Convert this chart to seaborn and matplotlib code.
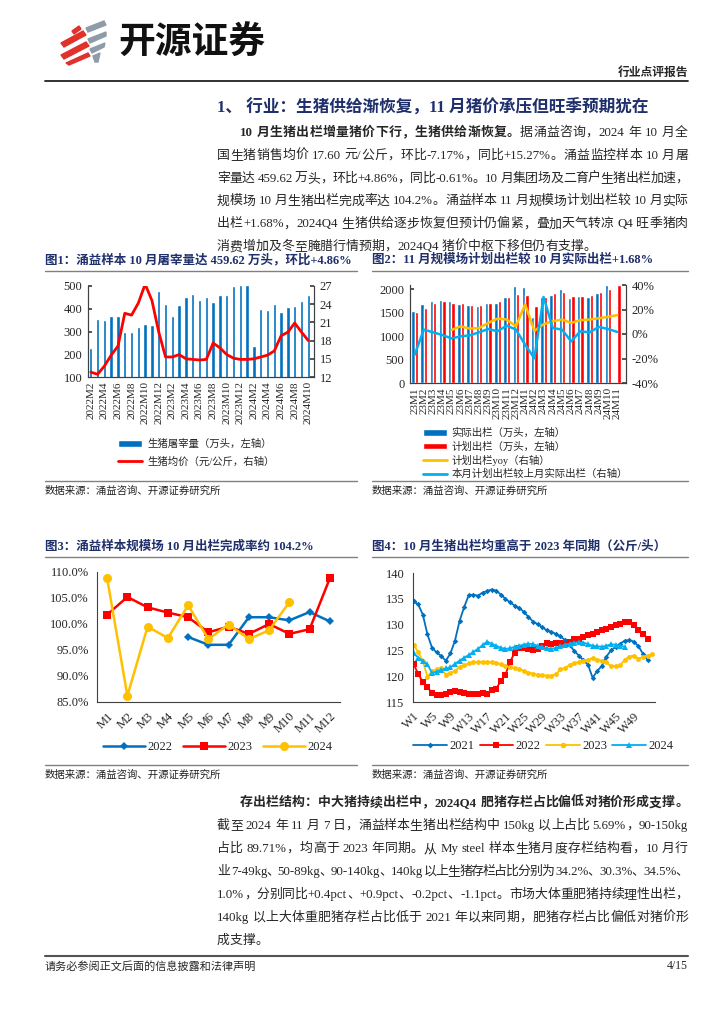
import re
import numpy as np
import pandas as pd
import matplotlib
matplotlib.use('Agg')
import matplotlib.pyplot as plt
import seaborn as sns
from matplotlib.patches import Polygon, Patch
from matplotlib.lines import Line2D

# ---------------- data ----------------
# 图1: 屠宰量 (万头) and 生猪均价 (元/公斤), 2022M2 - 2024M10
months1 = ([f'2022M{m}' for m in range(2, 13)] + [f'2023M{m}' for m in range(1, 13)]
           + [f'2024M{m}' for m in range(1, 11)])
slaughter = [226, 353, 350, 368, 370, 298, 298, 321, 334, 328, 477,
             420, 366, 415, 450, 464, 440, 453, 430, 459, 462, 499, 505,
             505, 238, 397, 394, 423, 384, 408, 410, 436, 460]
price = [12.8, 12.45, 13.8, 15.6, 17.1, 22.5, 22.2, 24.2, 27.3, 24.6, 19.4,
         15.3, 15.3, 15.7, 15.0, 14.9, 14.8, 14.9, 17.6, 16.8, 15.7, 15.1, 14.9,
         14.9, 15.0, 15.3, 15.6, 16.3, 18.8, 19.4, 20.9, 19.4, 18.0]

# 图2: 规模场实际 / 计划出栏 (万头), 23M1 - 24M11
months2 = [f'23M{m}' for m in range(1, 13)] + [f'24M{m}' for m in range(1, 12)]
actual = [1547, 1683, 1755, 1784, 1748, 1683, 1662, 1655, 1712, 1719, 1827, 2065,
          2050, 1417, 1835, 1878, 2000, 1806, 1856, 1827, 1914, 2093, np.nan]
plan = [1518, 1604, 1712, 1748, 1719, 1712, 1676, 1676, 1712, 1748, 1842, 1892,
        1885, 1640, 1842, 1928, 1935, 1863, 1856, 1885, 1942, 2000, 2093]
plan_yoy = [np.nan, np.nan, np.nan, np.nan, 3.3, 6.3, 4.4, 4.9, 9.1, 12.6, 11.8, 6.3,
            24.2, 2.5, 8.0, 10.4, 11.8, 9.1, 11.3, 11.8, 12.9, 14.0, 15.4]
plan_vs_last = [-17.0, 3.6, 1.4, -0.8, -3.6, -1.9, -1.1, 1.4, 4.1, 2.2, 6.9, 3.6,
                -8.8, -19.8, 30.2, 4.9, 3.6, -6.0, 2.2, 1.4, 5.8, 4.1, 1.7]

# 图3: 出栏完成率 (%)
months3 = [f'M{m}' for m in range(1, 13)]
rate_2022 = [np.nan, np.nan, np.nan, np.nan, 97.5, 96.0, 96.0, 101.3, 101.3, 100.7, 102.3, 100.5]
rate_2023 = [101.8, 105.2, 103.2, 102.2, 101.3, 98.4, 99.5, 98.1, 100.0, 98.1, 99.0, 108.8]
rate_2024 = [108.8, 86.2, 99.5, 97.3, 103.6, 97.1, 99.9, 97.1, 98.8, 104.2, np.nan, np.nan]

# 图4: 生猪出栏均重 (公斤/头), weekly
weight_2021 = [134.5, 133.9, 131.9, 128.1, 125.5, 124.6, 123.9, 123.0, 124.4, 126.9,
               130.7, 133.4, 135.7, 135.8, 135.6, 136.2, 136.5, 136.8, 136.6, 135.8,
               135.0, 134.3, 133.7, 133.2, 132.5, 131.5, 130.6, 130.1, 129.5, 128.9,
               128.6, 128.2, 127.7, 127.0, 126.0, 124.9, 124.0, 123.1, 122.2, 119.7,
               121.0, 122.0, 123.8, 125.0, 125.7, 126.3, 126.9, 127.0, 126.7, 125.8,
               124.3, 123.1]
weight_2022 = [122.3, 120.4, 118.9, 117.9, 116.7, 116.4, 116.3, 116.5, 117.0, 117.2,
               116.9, 116.7, 116.6, 116.5, 116.6, 116.7, 116.6, 117.3, 117.6, 119.1,
               120.3, 122.8, 124.5, 125.4, 125.4, 125.2, 125.1, 125.3, 125.9, 126.4,
               126.3, 126.5, 126.4, 126.2, 126.7, 127.2, 127.3, 127.6, 127.9, 128.1,
               128.5, 128.9, 129.2, 129.5, 129.9, 130.2, 130.5, 130.6, 129.9, 129.0,
               128.2, 127.3]
weight_2023 = [126.1, 124.6, 122.9, 119.9, 121.0, 121.3, 121.5, 120.3, 120.7, 121.0,
               121.8, 122.1, 122.5, 122.7, 122.8, 122.8, 122.7, 122.7, 122.6, 122.3,
               122.0, 121.7, 121.5, 121.3, 121.1, 120.7, 120.5, 120.3, 120.2, 120.1,
               120.1, 120.4, 121.3, 121.6, 122.2, 122.5, 122.8, 123.0, 123.2, 123.5,
               123.2, 123.0, 122.7, 121.9, 122.0, 122.1, 123.2, 123.8, 124.0, 123.4,
               123.7, 124.0, 124.3]
weight_2024 = [124.4, 123.6, 122.9, 122.3, 120.6, 120.9, 121.2, 121.5, 121.7, 122.4,
               123.0, 123.6, 124.1, 124.7, 125.3, 126.0, 126.7, 126.3, 125.9, 125.5,
               125.3, 125.4, 125.7, 125.9, 126.1, 126.3, 126.2, 125.9, 125.6, 125.4,
               125.3, 125.5, 125.8, 126.1, 126.3, 126.5, 126.6, 126.5, 126.2, 125.9,
               125.8, 125.7, 125.9, 126.2, 126.1, 125.9, 125.7]
week_ticks = list(range(1, 50, 4))

# ---------------- style ----------------
sns.set_theme(style='white')
SERIF_CJK = ['Liberation Serif', 'Noto Sans CJK SC']
plt.rcParams['font.family'] = SERIF_CJK
plt.rcParams['axes.unicode_minus'] = False

BLUE, RED, YELLOW, SKY = '#0070C0', '#FF0000', '#FFC000', '#00B0F0'
NAVY = '#1F2F6B'
SPINE = '#404040'

W, H = 724, 1024
fig = plt.figure(figsize=(W / 100, H / 100), dpi=100)
fig.patch.set_facecolor('white')
renderer = fig.canvas.get_renderer()


def fx(x):
    return x / W


def fy(y):
    return 1 - y / H


def rect(x0, y0, x1, y1):
    return [fx(x0), fy(y1), (x1 - x0) / W, (y1 - y0) / H]


def hline(x0, x1, y, color='#808080', lw=1.0):
    fig.add_artist(Line2D([fx(x0), fx(x1)], [fy(y), fy(y)], color=color, lw=lw))


def body_line(y, segs, x0=217, x1=688, size=9.3, justify=True):
    """Place one line of justified text, token by token."""
    toks = []
    for s, bold in segs:
        for t in re.findall(r'[!-~]+| |.', s):
            toks.append((t, bold))
    arts, widths = [], []
    for t, bold in toks:
        if t == ' ':
            arts.append(None)
            widths.append(size * 0.35)
            continue
        a = fig.text(0, fy(y), t, fontsize=size, family=SERIF_CJK,
                     fontweight='bold' if bold else 'normal', va='center', ha='left')
        arts.append(a)
        widths.append(a.get_window_extent(renderer).width)
    gap = (x1 - x0 - sum(widths)) / (len(toks) - 1) if justify else 0
    x = x0
    for a, w in zip(arts, widths):
        if a is not None:
            a.set_x(fx(x))
        x += w + gap


def style_ticks(ax, size=9):
    for lab in ax.get_xticklabels() + ax.get_yticklabels():
        lab.set_family('Liberation Serif')
        lab.set_fontsize(size)


def frame(a):
    a.set_xlabel('')
    a.set_ylabel('')
    a.spines['top'].set_visible(False)
    for s in a.spines.values():
        s.set_color(SPINE)
        s.set_linewidth(0.8)


# ---------------- page header ----------------
logo = fig.add_axes(rect(56, 18, 112, 66))
logo.set_xlim(56, 112)
logo.set_ylim(66, 18)
logo.axis('off')
for pts in [[(72, 31), (79, 26), (81, 29), (74, 34)],
            [(61, 43), (83, 31), (86, 35), (64, 47)],
            [(61, 55), (86, 42), (89, 46), (64, 59)],
            [(66, 63), (88, 53), (90, 56), (69, 65)]]:
    logo.add_patch(Polygon(pts, closed=True, color='#E0312B'))
for pts in [[(86, 28), (104, 21), (106, 25), (88, 32)],
            [(88, 39), (106, 32), (106, 36), (90, 43)],
            [(90, 49), (105, 43), (104, 47), (92, 53)],
            [(93, 56), (100, 53), (98, 62), (95, 62)]]:
    logo.add_patch(Polygon(pts, closed=True, color='#8E9BA9'))
fig.text(fx(118), fy(43), '开源证券', fontsize=26.5, fontweight='bold',
         family=['Noto Sans CJK SC'], va='center', ha='left', color='#111111')
fig.text(fx(688), fy(73), '行业点评报告', fontsize=8.5, fontweight='bold',
         va='center', ha='right')
hline(45, 688, 81, color='#222222', lw=1.3)

fig.text(fx(217), fy(108), '1、 行业：生猪供给渐恢复，11 月猪价承压但旺季预期犹在',
         fontsize=12, fontweight='bold', color=NAVY, va='center', ha='left')

para1 = [
    [('10 月生猪出栏增量猪价下行，生猪供给渐恢复。', True), ('据涌益咨询，2024 年 10 月全', False)],
    [('国生猪销售均价 17.60 元/公斤，环比-7.17%，同比+15.27%。涌益监控样本 10 月屠', False)],
    [('宰量达 459.62 万头，环比+4.86%，同比-0.61%。10 月集团场及二育户生猪出栏加速，', False)],
    [('规模场 10 月生猪出栏完成率达 104.2%。涌益样本 11 月规模场计划出栏较 10 月实际', False)],
    [('出栏+1.68%，2024Q4 生猪供给逐步恢复但预计仍偏紧，叠加天气转凉 Q4 旺季猪肉', False)],
    [('消费增加及冬至腌腊行情预期，2024Q4 猪价中枢下移但仍有支撑。', False)],
]
for i, segs in enumerate(para1):
    body_line(133 + 22.8 * i, segs, x0=240 if i == 0 else 217, justify=i < len(para1) - 1)

# ---------------- chart titles / frames ----------------
fig.text(fx(45), fy(260), '图1：涌益样本 10 月屠宰量达 459.62 万头，环比+4.86%',
         fontsize=9, fontweight='bold', color=NAVY, va='center')
fig.text(fx(372), fy(260), '图2：11 月规模场计划出栏较 10 月实际出栏+1.68%',
         fontsize=9, fontweight='bold', color=NAVY, va='center')
fig.text(fx(45), fy(547), '图3：涌益样本规模场 10 月出栏完成率约 104.2%',
         fontsize=9, fontweight='bold', color=NAVY, va='center')
fig.text(fx(372), fy(547), '图4：10 月生猪出栏均重高于 2023 年同期（公斤/头）',
         fontsize=9, fontweight='bold', color=NAVY, va='center')
for y in (271, 557):
    hline(45, 357, y)
    hline(372, 688, y)
for y in (481, 765):
    hline(45, 357, y)
    hline(372, 688, y)
for x in (45, 372):
    for y in (491, 775):
        fig.text(fx(x), fy(y), '数据来源：涌益咨询、开源证券研究所', fontsize=7.5,
                 va='center', color='#222222')

# ---------------- 图1 ----------------
ax1 = fig.add_axes(rect(88, 286, 314, 377))
df1 = pd.DataFrame({'month': months1, 'slaughter': slaughter})
sns.barplot(data=df1, x='month', y='slaughter', color=BLUE, width=0.5,
            saturation=1, ax=ax1)
ax1b = ax1.twinx()
sns.lineplot(x=np.arange(len(months1)), y=price, color=RED, lw=2, ax=ax1b)
ax1.set_ylim(100, 500)
ax1.set_yticks(range(100, 501, 100))
ax1b.set_ylim(12, 27)
ax1b.set_yticks(range(12, 28, 3))
ax1.set_xlim(-0.41, len(months1) - 0.16)
ax1.set_xticks(range(0, len(months1), 2))
ax1.set_xticklabels(months1[::2], rotation=90)
frame(ax1)
frame(ax1b)
ax1.tick_params(axis='y', direction='in', length=3, pad=4, color=SPINE)
ax1b.tick_params(axis='y', direction='in', length=3, pad=4, color=SPINE)
ax1.tick_params(axis='x', length=0, pad=3)
style_ticks(ax1)
style_ticks(ax1b)
for lab in ax1.get_xticklabels():
    lab.set_fontsize(8)
fig.legend([Patch(facecolor=BLUE), Line2D([], [], color=RED, lw=2)],
           ['生猪屠宰量（万头，左轴）', '生猪均价（元/公斤，右轴）'],
           loc='upper left', bbox_to_anchor=(fx(113), fy(434)), frameon=False,
           fontsize=7.5, handlelength=2.3, handleheight=0.7, labelspacing=0.7,
           borderpad=0, handletextpad=0.5)

# ---------------- 图2 ----------------
ax2 = fig.add_axes(rect(410, 285, 626, 383))
df2 = pd.DataFrame({'month': months2 * 2, 'value': actual + plan,
                    'kind': ['实际出栏'] * len(months2) + ['计划出栏'] * len(months2)})
df2 = df2.dropna()
sns.barplot(data=df2, x='month', y='value', hue='kind', order=months2,
            hue_order=['实际出栏', '计划出栏'], palette=[BLUE, RED], width=0.74,
            saturation=1, legend=False, ax=ax2)
ax2b = ax2.twinx()
sns.lineplot(x=np.arange(len(months2)), y=plan_yoy, color=YELLOW, lw=1.8, ax=ax2b)
sns.lineplot(x=np.arange(len(months2)), y=plan_vs_last, color=SKY, lw=1.8, ax=ax2b)
ax2.set_ylim(0, 2094)
ax2.set_yticks(range(0, 2001, 500))
ax2b.set_ylim(-40, 40)
ax2b.set_yticks(range(-40, 41, 20))
ax2b.set_yticklabels([f'{v}%' for v in range(-40, 41, 20)])
ax2.set_xlim(-0.5, len(months2) - 0.05)
ax2.set_xticks(range(len(months2)))
ax2.set_xticklabels(months2, rotation=90)
frame(ax2)
frame(ax2b)
ax2.tick_params(axis='y', direction='in', length=3, pad=4, color=SPINE)
ax2b.tick_params(axis='y', direction='in', length=3, pad=4, color=SPINE)
ax2.tick_params(axis='x', length=0, pad=3)
style_ticks(ax2)
style_ticks(ax2b)
for lab in ax2.get_xticklabels():
    lab.set_fontsize(8)
fig.legend([Patch(facecolor=BLUE), Patch(facecolor=RED),
            Line2D([], [], color=YELLOW, lw=2), Line2D([], [], color=SKY, lw=2)],
           ['实际出栏（万头，左轴）', '计划出栏（万头，左轴）', '计划出栏yoy（右轴）',
            '本月计划出栏较上月实际出栏（右轴）'],
           loc='upper left', bbox_to_anchor=(fx(418), fy(423)), frameon=False,
           fontsize=7.5, handlelength=2.3, handleheight=0.6, labelspacing=0.3,
           borderpad=0, handletextpad=0.4)

# ---------------- 图3 ----------------
ax3 = fig.add_axes(rect(97, 572, 340, 702))
x3 = np.arange(len(months3))
sns.lineplot(x=x3, y=rate_2022, color=BLUE, lw=1.8, marker='D', markersize=4.5,
             markeredgewidth=0, ax=ax3)
sns.lineplot(x=x3, y=rate_2023, color=RED, lw=1.8, marker='s', markersize=6,
             markeredgewidth=0, ax=ax3)
sns.lineplot(x=x3, y=rate_2024, color=YELLOW, lw=1.8, marker='o', markersize=6.5,
             markeredgewidth=0, ax=ax3)
ax3.set_ylim(85, 110)
ax3.set_yticks(range(85, 111, 5))
ax3.set_yticklabels([f'{v:.1f}%' for v in range(85, 111, 5)])
ax3.set_xlim(-0.5, len(months3) - 0.5)
ax3.set_xticks(x3)
ax3.set_xticklabels(months3, rotation=45, ha='right', rotation_mode='anchor')
ax3.set_xticks(np.arange(-0.5, len(months3)), minor=True)
ax3.tick_params(axis='x', which='major', length=0, pad=6)
ax3.tick_params(axis='x', which='minor', length=3, direction='out', color=SPINE)
ax3.tick_params(axis='y', length=3, direction='out', color=SPINE, pad=3)
frame(ax3)
ax3.spines['right'].set_visible(False)
style_ticks(ax3)
fig.legend([Line2D([], [], color=BLUE, lw=1.8, marker='D', ms=4.5, mew=0),
            Line2D([], [], color=RED, lw=1.8, marker='s', ms=6, mew=0),
            Line2D([], [], color=YELLOW, lw=1.8, marker='o', ms=6.5, mew=0)],
           ['2022', '2023', '2024'], ncol=3, loc='center left',
           bbox_to_anchor=(fx(97), fy(747)), frameon=False, fontsize=9,
           handlelength=3.3, columnspacing=0.9, handletextpad=0.2, borderpad=0)

# ---------------- 图4 ----------------
ax4 = fig.add_axes(rect(413, 573, 655, 702))
sns.lineplot(x=np.arange(1, len(weight_2021) + 1), y=weight_2021, color=BLUE, lw=1.3,
             marker='D', markersize=2.8, markeredgewidth=0, ax=ax4)
sns.lineplot(x=np.arange(1, len(weight_2022) + 1), y=weight_2022, color=RED, lw=1.3,
             marker='s', markersize=3.8, markeredgewidth=0, ax=ax4)
sns.lineplot(x=np.arange(1, len(weight_2023) + 1), y=weight_2023, color=YELLOW, lw=1.3,
             marker='o', markersize=3.5, markeredgewidth=0, ax=ax4)
sns.lineplot(x=np.arange(1, len(weight_2024) + 1), y=weight_2024, color=SKY, lw=1.3,
             marker='^', markersize=3.8, markeredgewidth=0, ax=ax4)
ax4.set_ylim(115, 140)
ax4.set_yticks(range(115, 141, 5))
ax4.set_xlim(0.85, 53.6)
ax4.set_xticks(week_ticks)
ax4.set_xticklabels([f'W{w}' for w in week_ticks], rotation=45, ha='right',
                    rotation_mode='anchor')
ax4.tick_params(axis='x', length=3, direction='out', color=SPINE, pad=3)
ax4.tick_params(axis='y', length=3, direction='out', color=SPINE, pad=3)
frame(ax4)
ax4.spines['right'].set_visible(False)
style_ticks(ax4)
fig.legend([Line2D([], [], color=BLUE, lw=1.3, marker='D', ms=3, mew=0),
            Line2D([], [], color=RED, lw=1.3, marker='s', ms=4, mew=0),
            Line2D([], [], color=YELLOW, lw=1.3, marker='o', ms=4, mew=0),
            Line2D([], [], color=SKY, lw=1.3, marker='^', ms=4, mew=0)],
           ['2021', '2022', '2023', '2024'], ncol=4, loc='center left',
           bbox_to_anchor=(fx(407), fy(746)), frameon=False, fontsize=9,
           handlelength=2.7, columnspacing=0.4, handletextpad=0.2, borderpad=0)

# ---------------- lower paragraph ----------------
body_line(803, [('存出栏结构：中大猪持续出栏中，2024Q4 肥猪存栏占比偏低对猪价形成支撑。', True)], x0=240)
para2 = [
    '截至 2024 年 11 月 7 日，涌益样本生猪出栏结构中 150kg 以上占比 5.69%，90-150kg',
    '占比 89.71%，均高于 2023 年同期。从 My steel 样本生猪月度存栏结构看，10 月行',
    '业 7-49kg、50-89kg、90-140kg、140kg 以上生猪存栏占比分别为 34.2%、30.3%、34.5%、',
    '1.0%，分别同比+0.4pct、+0.9pct、-0.2pct、-1.1pct。市场大体重肥猪持续理性出栏，',
    '140kg 以上大体重肥猪存栏占比低于 2021 年以来同期，肥猪存栏占比偏低对猪价形',
    '成支撑。',
]
for i, line in enumerate(para2):
    body_line(826 + 23 * i, [(line, False)], justify=i < len(para2) - 1)

# ---------------- footer ----------------
hline(45, 688, 956, color='#555555', lw=1.5)
fig.text(fx(45), fy(966), '请务必参阅正文后面的信息披露和法律声明', fontsize=8, va='center')
fig.text(fx(688), fy(966), '4/15', fontsize=8.5, va='center', ha='right')

fig.savefig('out.png', dpi=100, facecolor='white')
